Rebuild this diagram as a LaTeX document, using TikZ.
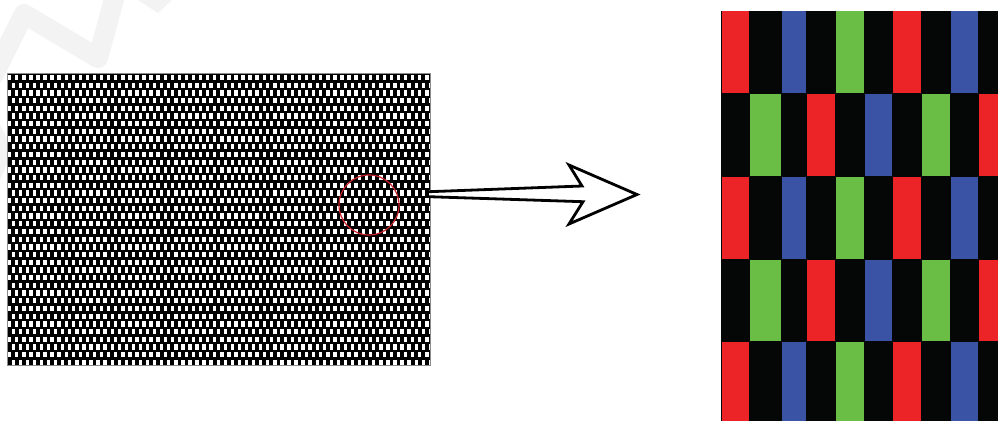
\documentclass[tikz,border=0pt]{standalone}
\definecolor{pxred}{RGB}{237,36,39}
\definecolor{pxgreen}{RGB}{106,189,69}
\definecolor{pxblue}{RGB}{58,83,164}
\definecolor{pxblack}{RGB}{5,6,6}
\definecolor{wmgray}{RGB}{243,243,243}
\definecolor{circred}{RGB}{205,35,45}
\tikzset{
  wmark/.style={draw=wmgray, line width=20pt, line join=round},
  cellwhite/.style={fill=white},
  bigarrow/.style={draw=black, fill=white, line width=2.8pt, line join=miter},
  zoomcircle/.style={draw=circred, line width=1.2pt},
  panelborder/.style={draw=black!45, line width=0.8pt}
}
\begin{document}
\begin{tikzpicture}[x=1pt,y=-1pt]
\useasboundingbox (0,0) rectangle (998,421);
\fill[white] (0,0) rectangle (998,421);
% faint watermark
\begin{scope}
\clip (0,0) rectangle (998,421);
\draw[wmark] (-8,78) -- (24,14) -- (98,58) -- (116,-8);
\fill[wmgray] (138,0) -- (172,0) -- (158,13) -- cycle;
\fill[wmgray] (0,125) -- (13,150) -- (0,180) -- cycle;
\end{scope}
% left panel pattern
\begin{scope}
\clip (7,73) rectangle (430,365);
\fill[black] (7,73) rectangle (430,365);
\foreach \r in {0,...,37} {
  \pgfmathsetmacro\yy{74.8+7.7*\r}
  \pgfmathsetmacro\off{mod(\r,2)==0 ? 8 : 4.45}
  \foreach \c in {0,...,60} {
    \fill[cellwhite] ({\off+7.07*\c},\yy) rectangle ++(3.4,5.3);
  }
}
\end{scope}
\draw[panelborder] (7,73) rectangle (430,365);
% zoom circle
\draw[zoomcircle] (369,205) circle[radius=30];
% arrow
\draw[bigarrow] (429,191.7) -- (582,186) -- (569,165) -- (637,194.5) -- (569,224) -- (583,201.7) -- (429,196.7);
% right panel: sub-pixel layout
\fill[pxblack] (721,11) rectangle (998,421);
\foreach \r in {0,2,4} {
  \pgfmathsetmacro\yt{11.4+82.75*\r}
  \pgfmathsetmacro\yb{min(11+82.75*(\r+1)-0.6,421)}
  \foreach \xa/\xb/\col in {721.5/749/pxred, 782/806/pxblue, 836/864/pxgreen, 893/921/pxred, 951/978/pxblue} {
    \fill[\col] (\xa,\yt) rectangle (\xb,\yb);
  }
}
\foreach \r in {1,3} {
  \pgfmathsetmacro\yt{11.4+82.75*\r}
  \pgfmathsetmacro\yb{11+82.75*(\r+1)-0.6}
  \foreach \xa/\xb/\col in {750/781/pxgreen, 807/835/pxred, 865/892/pxblue, 922/950/pxgreen, 979/998/pxred} {
    \fill[\col] (\xa,\yt) rectangle (\xb,\yb);
  }
}
\end{tikzpicture}
\end{document}
